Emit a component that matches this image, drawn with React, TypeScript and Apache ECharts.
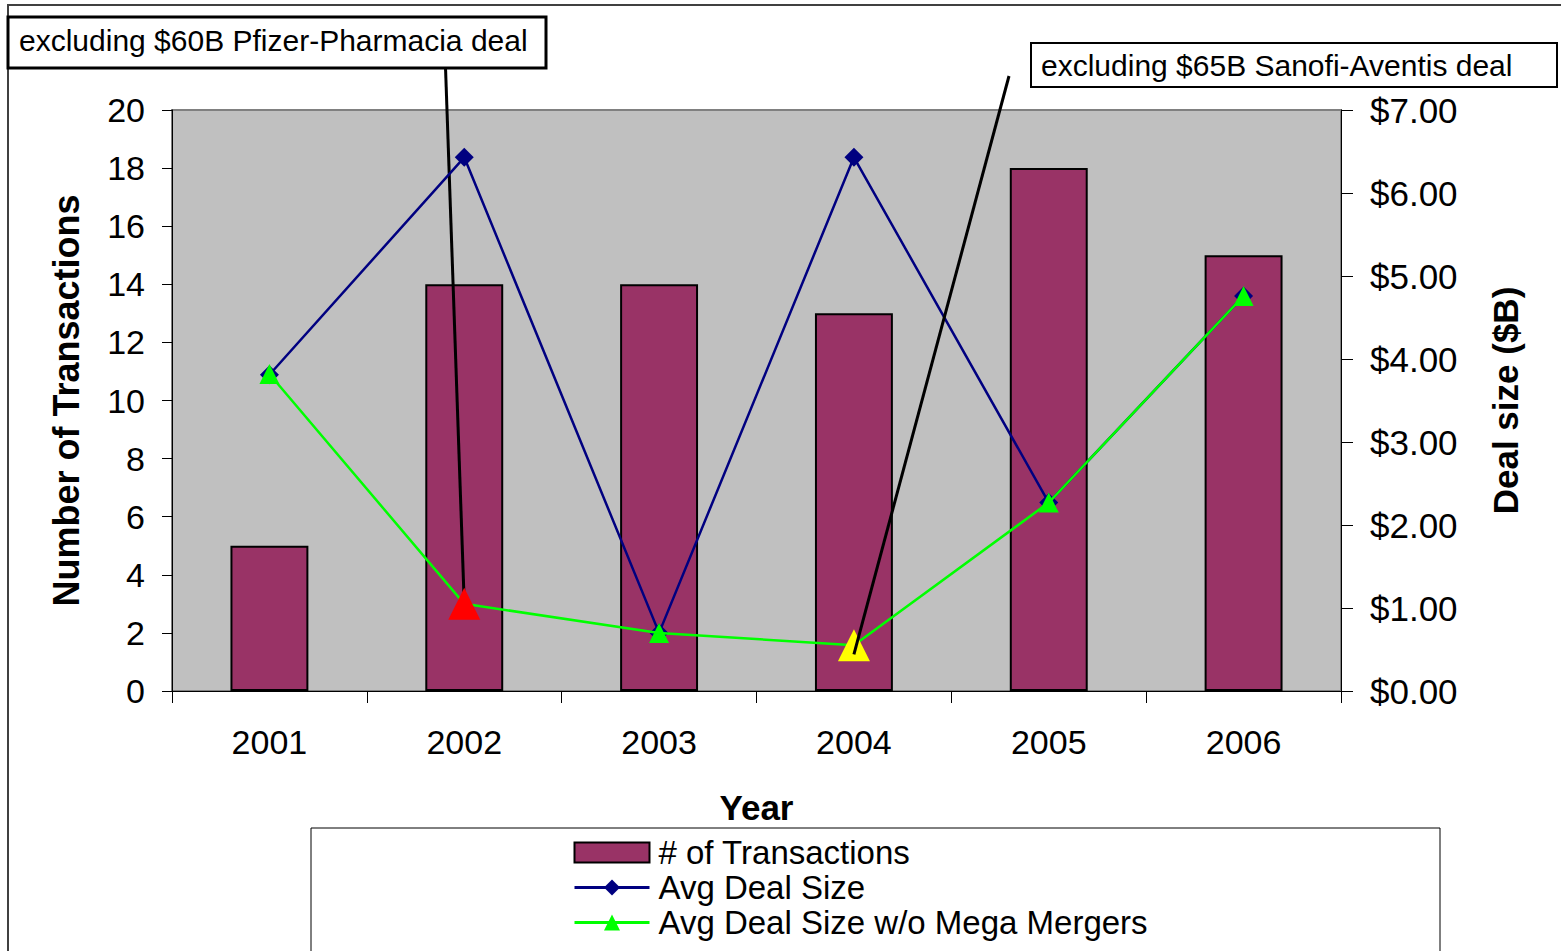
import React, { useEffect, useRef } from "react";
import * as echarts from "echarts";

const years = ["2001", "2002", "2003", "2004", "2005", "2006"];
const transactions = [5, 14, 14, 13, 18, 15];
const avgDealSize = [3.81, 6.43, 0.7, 6.43, 2.27, 4.76];
const avgDealSizeNoMega = [3.82, 1.05, 0.7, 0.55, 2.27, 4.76];
const highlightColors: Record<number, string> = { 1: "#FF0000", 3: "#FFFF00" };
const noteTexts = ["excluding $60B Pfizer-Pharmacia deal", "excluding $65B Sanofi-Aventis deal"];
const noteIndex = [1, 3];

const FONT = "'Liberation Sans', Arial, sans-serif";

export default function App() {
  const ref = useRef<HTMLDivElement>(null);
  useEffect(() => {
    if (!ref.current) return;
    const chart = echarts.init(ref.current, null, { renderer: "svg" });
    const option: any = {
      animation: false,
      backgroundColor: "#FFFFFF",
      textStyle: { fontFamily: FONT, color: "#000" },
      grid: {
        left: 172,
        top: 110,
        width: 1169,
        height: 581,
        show: true,
        backgroundColor: "#C0C0C0",
        borderColor: "#808080",
        borderWidth: 2,
      },
      legend: {
        orient: "vertical",
        left: 573,
        top: 836,
        padding: 0,
        itemWidth: 75,
        itemHeight: 20,
        itemGap: 2,
        textStyle: { fontSize: 33, lineHeight: 33, fontFamily: FONT, color: "#000", padding: [0, 0, 0, 4] },
        data: [
          { name: "# of Transactions", icon: "rect", itemStyle: { borderColor: "#000", borderWidth: 2 } },
          { name: "Avg Deal Size", lineStyle: { width: 3 } },
          { name: "Avg Deal Size w/o Mega Mergers", lineStyle: { width: 3 } },
        ],
      },
      xAxis: {
        type: "category",
        data: years,
        boundaryGap: true,
        name: "Year",
        nameLocation: "middle",
        nameGap: 99,
        nameTextStyle: { fontSize: 35, fontWeight: "bold", fontFamily: FONT, color: "#000" },
        axisLine: { lineStyle: { color: "#000", width: 1 } },
        axisTick: { show: true, length: 12, lineStyle: { color: "#000" } },
        axisLabel: { fontSize: 34, fontFamily: FONT, color: "#000", margin: 34 },
      },
      yAxis: [
        {
          type: "value",
          min: 0,
          max: 20,
          interval: 2,
          position: "left",
          name: "Number of Transactions",
          nameLocation: "middle",
          nameRotate: 90,
          nameGap: 88,
          nameTextStyle: { fontSize: 36, fontWeight: "bold", fontFamily: FONT, color: "#000" },
          axisLine: { show: true, lineStyle: { color: "#000", width: 1 } },
          axisTick: { show: true, length: 10, lineStyle: { color: "#000" } },
          axisLabel: { fontSize: 34, fontFamily: FONT, color: "#000", margin: 27 },
          splitLine: { show: false },
        },
        {
          type: "value",
          min: 0,
          max: 7,
          interval: 1,
          position: "right",
          name: "Deal size ($B)",
          nameLocation: "middle",
          nameRotate: 90,
          nameGap: 147,
          nameTextStyle: { fontSize: 35, fontWeight: "bold", fontFamily: FONT, color: "#000" },
          axisLine: { show: true, lineStyle: { color: "#000", width: 1 } },
          axisTick: { show: true, length: 12, lineStyle: { color: "#000" } },
          axisLabel: {
            fontSize: 35,
            fontFamily: FONT,
            color: "#000",
            margin: 29,
            formatter: (v: number) => "$" + v.toFixed(2),
          },
          splitLine: { show: false },
        },
      ],
      series: [
        {
          name: "# of Transactions",
          type: "bar",
          yAxisIndex: 0,
          data: transactions,
          barWidth: "40%",
          z: 2,
          itemStyle: { color: "#993366", borderColor: "#000", borderWidth: 2 },
        },
        {
          name: "Avg Deal Size",
          type: "line",
          yAxisIndex: 1,
          data: avgDealSize,
          z: 4,
          symbol: "diamond",
          symbolSize: 19,
          color: "#000080",
          lineStyle: { color: "#000080", width: 2.5 },
          itemStyle: { color: "#000080" },
        },
        {
          name: "Avg Deal Size w/o Mega Mergers",
          type: "line",
          yAxisIndex: 1,
          z: 5,
          data: avgDealSizeNoMega.map((v, i) =>
            highlightColors[i]
              ? { value: v, symbolSize: 32, itemStyle: { color: highlightColors[i] } }
              : v
          ),
          symbol: "triangle",
          symbolSize: 20,
          color: "#00FF00",
          lineStyle: { color: "#00FF00", width: 2.5 },
          itemStyle: { color: "#00FF00" },
        },
      ],
    };
    chart.setOption(option);

    const pA = chart.convertToPixel({ seriesIndex: 2 }, [noteIndex[0], avgDealSizeNoMega[noteIndex[0]]]) as number[];
    const pB = chart.convertToPixel({ seriesIndex: 2 }, [noteIndex[1], avgDealSizeNoMega[noteIndex[1]]]) as number[];

    chart.setOption({
      graphic: [
        {
          type: "rect",
          z: 0,
          silent: true,
          shape: { x: 8, y: 5, width: 1600, height: 1000 },
          style: { fill: "none", stroke: "#404040", lineWidth: 2 },
        },
        {
          type: "rect",
          z: 1,
          silent: true,
          shape: { x: 311, y: 828, width: 1129, height: 200 },
          style: { fill: "none", stroke: "#000", lineWidth: 1 },
        },
        {
          type: "line",
          z: 3,
          silent: true,
          shape: { x1: 445, y1: 53, x2: pA[0], y2: pA[1] },
          style: { stroke: "#000", lineWidth: 3 },
        },
        {
          type: "line",
          z: 10,
          silent: true,
          shape: { x1: 1009, y1: 76, x2: pB[0], y2: pB[1] + 9 },
          style: { stroke: "#000", lineWidth: 3 },
        },
        {
          type: "rect",
          z: 11,
          silent: true,
          shape: { x: 8, y: 17, width: 538, height: 51 },
          style: { fill: "#FFFFFF", stroke: "#000", lineWidth: 3 },
        },
        {
          type: "text",
          z: 12,
          silent: true,
          x: 19,
          y: 40,
          style: { text: noteTexts[0], fontSize: 30, fontFamily: FONT, fill: "#000", verticalAlign: "middle" },
        },
        {
          type: "rect",
          z: 11,
          silent: true,
          shape: { x: 1031, y: 43, width: 526, height: 44 },
          style: { fill: "#FFFFFF", stroke: "#000", lineWidth: 2 },
        },
        {
          type: "text",
          z: 12,
          silent: true,
          x: 1041,
          y: 65,
          style: { text: noteTexts[1], fontSize: 30, fontFamily: FONT, fill: "#000", verticalAlign: "middle" },
        },
      ],
    });

    return () => chart.dispose();
  }, []);

  return (
    <div
      ref={ref}
      style={{ position: "fixed", left: 0, top: 0, width: 1561, height: 951, background: "#fff" }}
    />
  );
}
